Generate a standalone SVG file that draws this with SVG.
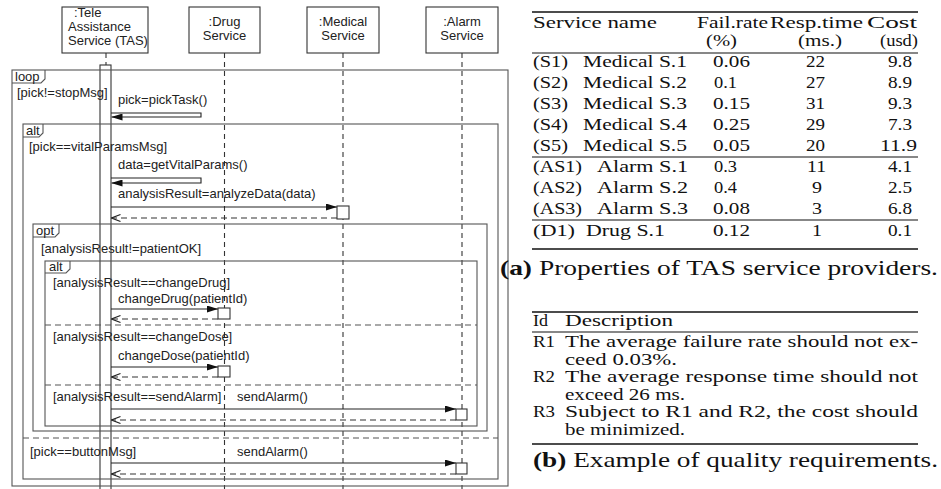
<svg xmlns="http://www.w3.org/2000/svg" width="941" height="489" viewBox="0 0 941 489">
<defs>
<style>
.s{font-family:"Liberation Sans",Arial,sans-serif;font-size:13px;fill:#222}
.m{text-anchor:middle}
.t{font-family:"Liberation Serif","Times New Roman",serif;font-size:17px;fill:#111}
.q{font-family:"Liberation Serif","Times New Roman",serif;font-size:16px;fill:#111}
.c{font-family:"Liberation Serif","Times New Roman",serif;font-size:22px;fill:#111}
.box{fill:#fff;stroke:#333;stroke-width:1.1}
.frame{fill:none;stroke:#555;stroke-width:1.1}
.sep{fill:none;stroke:#555;stroke-width:1.1;stroke-dasharray:6 4}
.life{stroke:#333;stroke-width:1.1;stroke-dasharray:5 4}
.msg{fill:none;stroke:#222;stroke-width:1.1}
.ret{fill:none;stroke:#333;stroke-width:1.1;stroke-dasharray:6 4}
.act{fill:#fff;stroke:#333;stroke-width:1.1}
.rule{stroke:#111;stroke-width:1.1}
.rule2{stroke:#111;stroke-width:1.5}
</style>
<marker id="fa" markerWidth="11" markerHeight="7" refX="11" refY="3.5" orient="auto" markerUnits="userSpaceOnUse"><path d="M0,0 L11,3.5 L0,7 z" fill="#111"/></marker>
<marker id="oa" markerWidth="11" markerHeight="8" refX="10" refY="4" orient="auto" markerUnits="userSpaceOnUse"><path d="M1,0.5 L10,4 L1,7.5" fill="none" stroke="#222" stroke-width="1.1"/></marker>
</defs>
<rect width="941" height="489" fill="#fff"/>

<g id="tas">
<rect class="box" x="62" y="7" width="86" height="46"/>
<text class="s" x="74" y="17">:Tele</text>
<text class="s" x="68" y="31">Assistance</text>
<text class="s" x="68" y="45">Service (TAS)</text>
<line class="life" x1="106" y1="53" x2="106" y2="65"/>
<rect class="act" x="100" y="65" width="11" height="430"/>
</g>
<g id="drug">
<rect class="box" x="189" y="7" width="71" height="46"/>
<text class="s m" x="224.5" y="26">:Drug</text>
<text class="s m" x="224.5" y="40">Service</text>
<line class="life" x1="224.5" y1="53" x2="224.5" y2="489"/>
</g>
<g id="medical">
<rect class="box" x="307" y="7" width="72" height="46"/>
<text class="s m" x="343" y="26">:Medical</text>
<text class="s m" x="343" y="40">Service</text>
<line class="life" x1="343" y1="53" x2="343" y2="489"/>
</g>
<g id="alarm">
<rect class="box" x="426" y="7" width="72" height="46"/>
<text class="s m" x="462" y="26">:Alarm</text>
<text class="s m" x="462" y="40">Service</text>
<line class="life" x1="462" y1="53" x2="462" y2="489"/>
</g>

<g id="loop-frame">
<rect class="frame" x="12" y="70" width="496" height="416"/>
<path class="frame" d="M12,83 H41 L45,79 V70"/>
<text class="s" x="15" y="81">loop</text>
<text class="s" x="17" y="97">[pick!=stopMsg]</text>
</g>
<g id="alt-outer">
<rect class="frame" x="23" y="124" width="475" height="355"/>
<path class="frame" d="M23,137 H39 L43,133 V124"/>
<text class="s" x="26" y="135">alt</text>
<text class="s" x="29" y="151">[pick==vitalParamsMsg]</text>
<line class="sep" x1="23" y1="438" x2="498" y2="438"/>
<text class="s" x="30" y="456">[pick==buttonMsg]</text>
</g>
<g id="opt-frame">
<rect class="frame" x="33" y="224" width="454" height="207"/>
<path class="frame" d="M33,237 H55 L59,233 V224"/>
<text class="s" x="36" y="235">opt</text>
<text class="s" x="41" y="253">[analysisResult!=patientOK]</text>
</g>
<g id="alt-inner">
<rect class="frame" x="45" y="261" width="432" height="165"/>
<path class="frame" d="M45,273 H66 L70,269 V261"/>
<text class="s" x="49" y="271">alt</text>
<text class="s" x="53" y="287">[analysisResult==changeDrug]</text>
<line class="sep" x1="45" y1="325" x2="477" y2="325"/>
<text class="s" x="53" y="341">[analysisResult==changeDose]</text>
<line class="sep" x1="45" y1="385" x2="477" y2="385"/>
<text class="s" x="53" y="401">[analysisResult==sendAlarm]</text>
</g>

<g id="connectors">
<path class="msg" d="M111,113 H201 V117 H111.5" marker-end="url(#fa)"/>
<text class="s" x="118" y="104">pick=pickTask()</text>
<path class="msg" d="M111,178 H201 V183 H111.5" marker-end="url(#fa)"/>
<text class="s" x="118" y="169">data=getVitalParams()</text>
<line class="msg" x1="111" y1="207" x2="337" y2="207" marker-end="url(#fa)"/>
<text class="s" x="118" y="198">analysisResult=analyzeData(data)</text>
<line class="ret" x1="337" y1="218" x2="111.5" y2="218" marker-end="url(#oa)"/>
<line class="msg" x1="111" y1="309" x2="218" y2="309" marker-end="url(#fa)"/>
<text class="s" x="118" y="303">changeDrug(patientId)</text>
<line class="ret" x1="218" y1="319" x2="111.5" y2="319" marker-end="url(#oa)"/>
<line class="msg" x1="111" y1="367" x2="218" y2="367" marker-end="url(#fa)"/>
<text class="s" x="118" y="360">changeDose(patientId)</text>
<line class="ret" x1="218" y1="377" x2="111.5" y2="377" marker-end="url(#oa)"/>
<line class="msg" x1="111" y1="409" x2="456" y2="409" marker-end="url(#fa)"/>
<text class="s" x="237" y="401">sendAlarm()</text>
<line class="ret" x1="456" y1="420" x2="111.5" y2="420" marker-end="url(#oa)"/>
<line class="msg" x1="111" y1="463" x2="456" y2="463" marker-end="url(#fa)"/>
<text class="s" x="237" y="456">sendAlarm()</text>
<line class="ret" x1="456" y1="474" x2="111.5" y2="474" marker-end="url(#oa)"/>
</g>
<g id="activations">
<rect class="act" x="337" y="206" width="12" height="13"/>
<rect class="act" x="218" y="308" width="12" height="11"/>
<rect class="act" x="218" y="366" width="12" height="11"/>
<rect class="act" x="456" y="409" width="11" height="11"/>
<rect class="act" x="456" y="463" width="11" height="11"/>
</g>

<g id="table-a">
<line class="rule2" x1="532" y1="12" x2="918" y2="12"/>
<text class="t" x="533" y="28" textLength="124" lengthAdjust="spacingAndGlyphs">Service name</text>
<text class="t" x="697" y="28" textLength="71" lengthAdjust="spacingAndGlyphs">Fail.rate</text>
<text class="t" x="770" y="28" textLength="93" lengthAdjust="spacingAndGlyphs">Resp.time</text>
<text class="t" x="867" y="28" textLength="50" lengthAdjust="spacingAndGlyphs">Cost</text>
<text class="t" x="706" y="46" textLength="31" lengthAdjust="spacingAndGlyphs">(%)</text>
<text class="t" x="798" y="46" textLength="44" lengthAdjust="spacingAndGlyphs">(ms.)</text>
<text class="t" x="880" y="46" textLength="38" lengthAdjust="spacingAndGlyphs">(usd)</text>
<line class="rule" x1="532" y1="53" x2="918" y2="53"/>

<text class="t" x="533" y="67" textLength="35" lengthAdjust="spacingAndGlyphs">(S1)</text>
<text class="t" x="583" y="67" textLength="104" lengthAdjust="spacingAndGlyphs">Medical S.1</text>
<text class="t" x="713" y="67" textLength="37" lengthAdjust="spacingAndGlyphs">0.06</text>
<text class="t" x="806" y="67" textLength="19" lengthAdjust="spacingAndGlyphs">22</text>
<text class="t" x="888" y="67" textLength="24" lengthAdjust="spacingAndGlyphs">9.8</text>

<text class="t" x="533" y="88" textLength="35" lengthAdjust="spacingAndGlyphs">(S2)</text>
<text class="t" x="583" y="88" textLength="104" lengthAdjust="spacingAndGlyphs">Medical S.2</text>
<text class="t" x="714" y="88" textLength="23" lengthAdjust="spacingAndGlyphs">0.1</text>
<text class="t" x="806" y="88" textLength="19" lengthAdjust="spacingAndGlyphs">27</text>
<text class="t" x="888" y="88" textLength="24" lengthAdjust="spacingAndGlyphs">8.9</text>

<text class="t" x="533" y="109" textLength="35" lengthAdjust="spacingAndGlyphs">(S3)</text>
<text class="t" x="583" y="109" textLength="104" lengthAdjust="spacingAndGlyphs">Medical S.3</text>
<text class="t" x="713" y="109" textLength="37" lengthAdjust="spacingAndGlyphs">0.15</text>
<text class="t" x="806" y="109" textLength="19" lengthAdjust="spacingAndGlyphs">31</text>
<text class="t" x="888" y="109" textLength="24" lengthAdjust="spacingAndGlyphs">9.3</text>

<text class="t" x="533" y="130" textLength="35" lengthAdjust="spacingAndGlyphs">(S4)</text>
<text class="t" x="583" y="130" textLength="104" lengthAdjust="spacingAndGlyphs">Medical S.4</text>
<text class="t" x="713" y="130" textLength="37" lengthAdjust="spacingAndGlyphs">0.25</text>
<text class="t" x="806" y="130" textLength="19" lengthAdjust="spacingAndGlyphs">29</text>
<text class="t" x="888" y="130" textLength="24" lengthAdjust="spacingAndGlyphs">7.3</text>

<text class="t" x="533" y="151" textLength="35" lengthAdjust="spacingAndGlyphs">(S5)</text>
<text class="t" x="583" y="151" textLength="104" lengthAdjust="spacingAndGlyphs">Medical S.5</text>
<text class="t" x="713" y="151" textLength="37" lengthAdjust="spacingAndGlyphs">0.05</text>
<text class="t" x="806" y="151" textLength="19" lengthAdjust="spacingAndGlyphs">20</text>
<text class="t" x="880" y="151" textLength="37" lengthAdjust="spacingAndGlyphs">11.9</text>
<line class="rule" x1="532" y1="157" x2="918" y2="157"/>

<text class="t" x="533" y="172" textLength="49" lengthAdjust="spacingAndGlyphs">(AS1)</text>
<text class="t" x="597" y="172" textLength="91" lengthAdjust="spacingAndGlyphs">Alarm S.1</text>
<text class="t" x="714" y="172" textLength="23" lengthAdjust="spacingAndGlyphs">0.3</text>
<text class="t" x="807" y="172" textLength="19" lengthAdjust="spacingAndGlyphs">11</text>
<text class="t" x="888" y="172" textLength="24" lengthAdjust="spacingAndGlyphs">4.1</text>

<text class="t" x="533" y="193" textLength="49" lengthAdjust="spacingAndGlyphs">(AS2)</text>
<text class="t" x="597" y="193" textLength="91" lengthAdjust="spacingAndGlyphs">Alarm S.2</text>
<text class="t" x="714" y="193" textLength="23" lengthAdjust="spacingAndGlyphs">0.4</text>
<text class="t" x="812" y="193" textLength="10" lengthAdjust="spacingAndGlyphs">9</text>
<text class="t" x="888" y="193" textLength="24" lengthAdjust="spacingAndGlyphs">2.5</text>

<text class="t" x="533" y="214" textLength="49" lengthAdjust="spacingAndGlyphs">(AS3)</text>
<text class="t" x="597" y="214" textLength="91" lengthAdjust="spacingAndGlyphs">Alarm S.3</text>
<text class="t" x="713" y="214" textLength="37" lengthAdjust="spacingAndGlyphs">0.08</text>
<text class="t" x="812" y="214" textLength="10" lengthAdjust="spacingAndGlyphs">3</text>
<text class="t" x="888" y="214" textLength="24" lengthAdjust="spacingAndGlyphs">6.8</text>
<line class="rule" x1="532" y1="220" x2="918" y2="220"/>

<text class="t" x="533" y="236" textLength="42" lengthAdjust="spacingAndGlyphs">(D1)</text>
<text class="t" x="586" y="236" textLength="79" lengthAdjust="spacingAndGlyphs">Drug S.1</text>
<text class="t" x="713" y="236" textLength="37" lengthAdjust="spacingAndGlyphs">0.12</text>
<text class="t" x="812" y="236" textLength="10" lengthAdjust="spacingAndGlyphs">1</text>
<text class="t" x="888" y="236" textLength="24" lengthAdjust="spacingAndGlyphs">0.1</text>
<line class="rule2" x1="532" y1="249" x2="918" y2="249"/>

<text class="c" x="500" y="275" textLength="438" lengthAdjust="spacingAndGlyphs"><tspan font-weight="bold">(a)</tspan> Properties of TAS service providers.</text>
</g>

<g id="table-b">
<line class="rule2" x1="532" y1="312" x2="918" y2="312"/>
<text class="q" x="533" y="326" textLength="15" lengthAdjust="spacingAndGlyphs">Id</text>
<text class="q" x="565" y="326" textLength="108" lengthAdjust="spacingAndGlyphs">Description</text>
<line class="rule" x1="532" y1="332" x2="918" y2="332"/>
<text class="q" x="533" y="347" textLength="22" lengthAdjust="spacingAndGlyphs">R1</text>
<text class="q" x="565" y="347" textLength="353" lengthAdjust="spacingAndGlyphs">The average failure rate should not ex-</text>
<text class="q" x="565" y="364.5" textLength="112" lengthAdjust="spacingAndGlyphs">ceed 0.03%.</text>
<text class="q" x="533" y="382" textLength="22" lengthAdjust="spacingAndGlyphs">R2</text>
<text class="q" x="565" y="382" textLength="353" lengthAdjust="spacingAndGlyphs">The average response time should not</text>
<text class="q" x="565" y="399.5" textLength="120" lengthAdjust="spacingAndGlyphs">exceed 26 ms.</text>
<text class="q" x="533" y="417" textLength="22" lengthAdjust="spacingAndGlyphs">R3</text>
<text class="q" x="565" y="417" textLength="353" lengthAdjust="spacingAndGlyphs">Subject to R1 and R2, the cost should</text>
<text class="q" x="565" y="434.5" textLength="120" lengthAdjust="spacingAndGlyphs">be minimized.</text>
<line class="rule2" x1="532" y1="444" x2="918" y2="444"/>
<text class="c" x="533" y="467" textLength="405" lengthAdjust="spacingAndGlyphs"><tspan font-weight="bold">(b)</tspan> Example of quality requirements.</text>
</g>
</svg>
